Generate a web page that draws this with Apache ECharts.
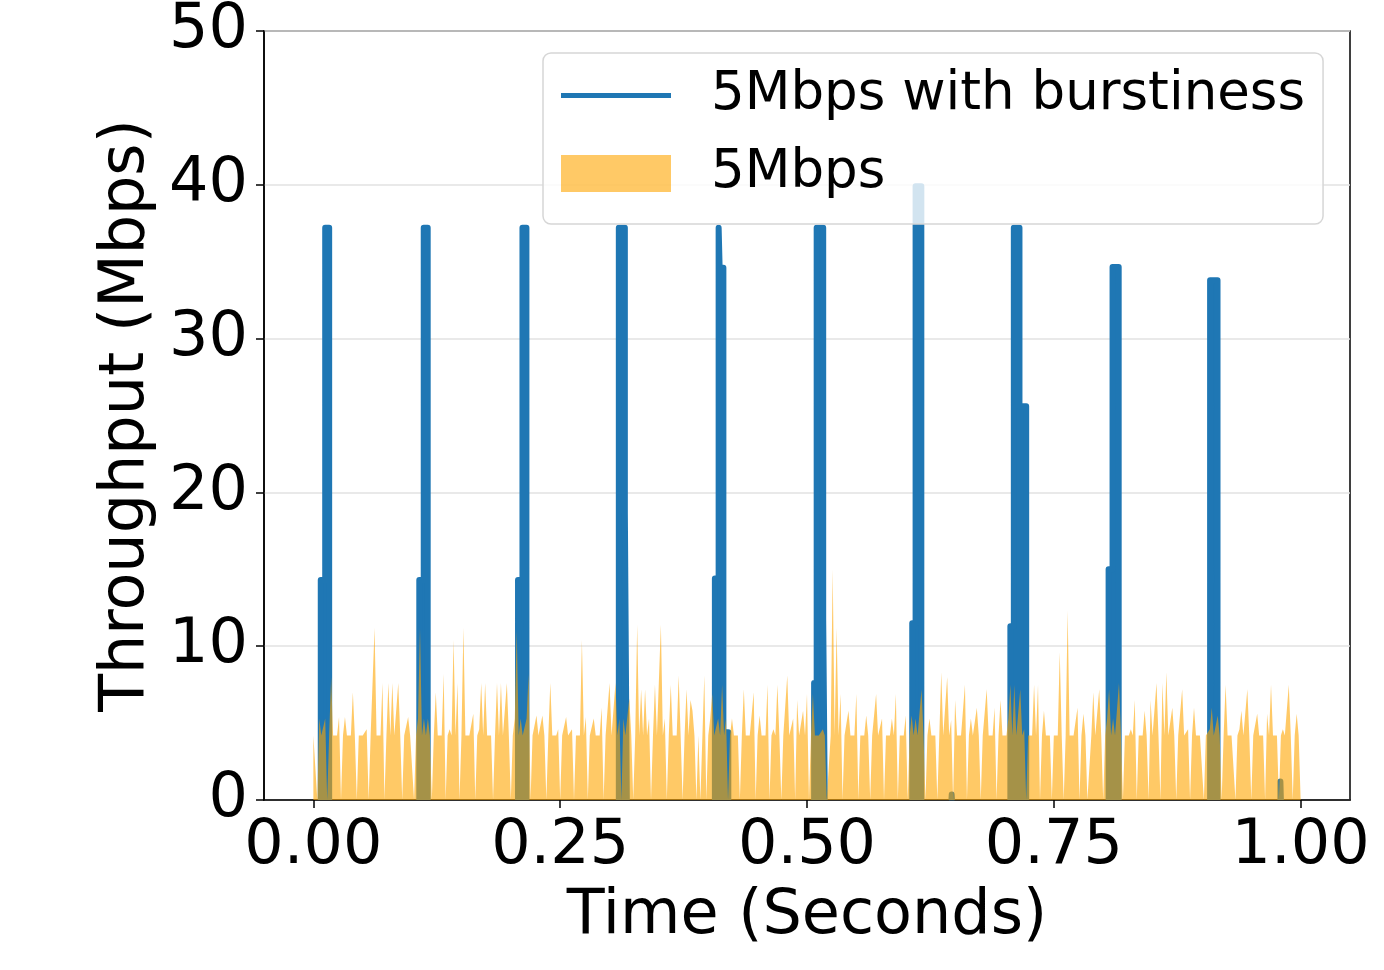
<!DOCTYPE html>
<html>
<head>
<meta charset="utf-8">
<script src="https://cdn.jsdelivr.net/npm/echarts@6/dist/echarts.min.js"></script>
<style>
  html, body { margin: 0; padding: 0; background: #fff; }
  #chart { width: 1384px; height: 970px; }
</style>
</head>
<body>
<div id="chart"></div>
<script>
// ---------------- data ----------------
const xTicks = [0, 0.25, 0.5, 0.75, 1.0];
const seriesNames = ['5Mbps with burstiness', '5Mbps'];

// "5Mbps with burstiness": burst outlines (time in s, throughput in Mbps); null separates bursts
const burstTimes = [
  0.0075, 0.0075, 0.012, 0.012, 0.016, 0.016, 0.05,
  0.1073, 0.1073, 0.1118, 0.1118, 0.1158, 0.1158, 0.15,
  0.2073, 0.2073, 0.2118, 0.2118, 0.2158, 0.2158, 0.25,
  0.3094, 0.3094, 0.3155, 0.3155, 0.3175, 0.3175, 0.35,
  0.4067, 0.4067, 0.4105, 0.4105, 0.4115, 0.4115, 0.4153, 0.4153, 0.4203, 0.4203, 0.45,
  0.5072, 0.5072, 0.5098, 0.5098, 0.5164, 0.5164, 0.518, 0.518, 0.55,
  0.6066, 0.6066, 0.61, 0.61, 0.6158, 0.6158, 0.63,
  0.6463, 0.6466, 0.6469, 0.67,
  0.706, 0.706, 0.7095, 0.7095, 0.7152, 0.7152, 0.722, 0.722, 0.75,
  0.8055, 0.8055, 0.8095, 0.8095, 0.8157, 0.8157, 0.85,
  0.9083, 0.9083, 0.9158, 0.9158, 0.95,
  0.9795, 0.9795, 0.98, 0.98
];
const burstValues = [
  0, 14.3, 14.3, 37.2, 37.2, 0, null,
  0, 14.3, 14.3, 37.2, 37.2, 0, null,
  0, 14.3, 14.3, 37.2, 37.2, 0, null,
  0, 37.2, 37.2, 18.7, 18.7, 0, null,
  0, 14.4, 14.4, 37.2, 37.2, 34.6, 34.6, 4.4, 4.4, 0, null,
  0, 7.6, 7.6, 37.2, 37.2, 11.8, 11.8, 0, null,
  0, 11.5, 11.5, 39.9, 39.9, 0, null,
  0, 0.35, 0, null,
  0, 11.3, 11.3, 37.2, 37.2, 25.6, 25.6, 0, null,
  0, 15.0, 15.0, 34.65, 34.65, 0, null,
  0, 33.8, 33.8, 0, null,
  0, 1.2, 1.2, 0
];

// "5Mbps": one sample every 2 ms from 0.000 s to 1.000 s
const steadyStart = 0;
const steadyStep = 0.002;
const steadyValues = [
  4.2,4.2,0,5.3,4.2,4.2,5.3,0,4.2,8.0,4.2,4.2,4.2,5.4,0,4.2,5.4,4.2,4.2,4.2,7.0,4.2,0,4.2,4.2,
  4.2,4.2,4.6,0,4.2,4.2,11.2,4.2,4.2,4.2,7.6,0,4.2,7.6,4.2,7.6,4.2,4.2,7.6,4.2,0,4.2,4.2,5.4,4.2,
  4.2,0,4.2,5.3,11.2,4.2,5.3,4.2,5.3,4.2,0,4.2,7.0,4.2,4.2,4.2,8.2,0,4.2,4.6,4.2,10.4,4.2,7.6,0,
  4.2,11.2,4.2,4.2,4.2,4.2,5.6,0,4.2,4.6,7.6,4.2,7.6,4.2,4.2,4.2,0,4.2,7.6,4.2,7.6,4.2,4.2,7.6,4.2,
  0,4.2,5.3,11.0,4.2,5.3,4.2,4.2,5.3,8.2,0,4.2,4.2,5.5,4.2,4.2,5.5,4.2,0,4.2,7.6,4.2,4.2,4.2,4.6,
  0,4.2,4.2,5.4,4.2,4.2,4.6,0,4.2,4.2,4.2,10.4,4.2,5.4,0,4.2,4.2,5.3,4.2,4.2,4.2,6.0,0,4.2,4.2,
  7.6,4.2,4.2,7.6,4.2,5.3,0,5.3,4.2,4.2,6.6,4.2,0,4.2,11.4,4.2,7.2,4.2,7.2,4.2,5.3,0,4.2,7.5,4.2,
  4.2,11.4,4.2,5.3,0,4.2,7.5,4.2,4.2,4.2,8.1,4.2,0,4.2,7.2,4.2,6.5,5.8,4.2,0,4.2,0,0,8.1,0,
  4.2,5.3,6.9,4.2,4.2,5.3,4.2,7.5,4.2,5.3,0,4.2,5.3,4.2,4.2,4.2,0,4.2,7.2,4.2,4.2,4.2,4.2,7.0,0,
  4.2,5.5,4.2,4.2,4.2,7.5,0,4.2,4.6,4.2,7.5,4.2,0,4.2,4.2,8.1,4.2,4.2,5.3,0,6.5,4.2,4.2,5.8,4.2,
  6.9,0,4.2,6.9,4.2,4.2,4.2,4.2,4.6,4.2,0,0,4.2,15.0,4.2,11.2,4.2,6.9,0,4.2,4.2,5.8,4.2,4.2,4.2,
  6.9,0,4.2,4.2,4.2,5.5,4.2,0,4.2,4.2,6.9,4.2,4.2,5.3,0,4.2,4.2,4.2,5.3,4.2,6.9,0,4.2,4.2,4.2,
  5.5,0,4.2,5.5,4.2,5.3,4.2,4.2,7.2,4.2,0,4.2,5.3,4.2,4.2,4.2,0,4.2,8.3,4.2,4.2,8.0,4.2,5.2,0,
  6.5,4.2,4.2,4.2,4.2,7.5,0,4.2,5.3,4.2,4.2,6.0,4.2,0,4.2,4.2,7.2,4.2,4.2,4.2,6.0,0,4.2,6.5,4.2,
  4.2,4.2,5.3,7.5,4.2,7.5,4.2,4.2,7.2,4.2,4.6,0,4.2,4.2,4.2,7.5,4.2,7.5,0,4.2,5.8,4.2,4.2,4.2,0,
  4.2,4.2,4.2,9.6,4.2,0,4.2,12.3,4.2,4.2,4.2,4.2,6.0,0,4.2,5.6,4.2,0,0,4.2,7.0,4.2,4.2,7.2,4.2,
  0,4.2,5.3,7.2,4.2,5.3,4.2,4.2,7.6,4.2,0,4.2,4.2,4.2,4.6,4.2,6.5,0,4.2,4.2,4.2,5.8,4.2,0,6.5,
  4.2,4.2,7.6,4.2,0,7.6,4.2,8.3,4.2,4.2,6.0,4.2,0,4.2,4.2,7.2,4.2,4.2,4.6,0,4.2,6.0,4.2,4.2,4.2,
  4.2,0,4.2,4.2,4.6,6.0,4.2,4.2,5.5,4.2,0,4.2,7.5,4.2,4.2,4.2,4.2,0,4.2,4.6,5.8,4.2,4.2,7.2,4.2,
  0,4.2,4.2,5.6,4.2,4.2,4.2,0,5.6,4.2,7.5,4.2,4.2,4.2,0,4.2,4.6,4.2,4.2,7.5,4.2,0,4.2,5.6,4.2,
  4.2
];

// ---------------- chart ----------------
const FONT = 'DejaVu Sans';
const burstData = burstTimes.map((t, i) => [t, burstValues[i]]);
const steadyData = steadyValues.map((v, i) => [steadyStart + i * steadyStep, v]);

const chart = echarts.init(document.getElementById('chart'), null, { renderer: 'canvas' });
chart.setOption({
  animation: false,
  backgroundColor: '#ffffff',
  grid: {
    left: 264, right: 34, top: 26, bottom: 170,
    show: true, borderColor: '#000', borderWidth: 1.5, backgroundColor: 'transparent'
  },
  xAxis: {
    type: 'value', min: -0.05, max: 1.05,
    name: 'Time (Seconds)', nameLocation: 'middle', nameGap: 86,
    nameTextStyle: { fontFamily: FONT, fontSize: 62, color: '#000' },
    axisLine: { show: true, onZero: false, lineStyle: { color: '#000', width: 1.5 } },
    axisTick: { show: true, length: 8, customValues: xTicks, lineStyle: { color: '#000', width: 1.5 } },
    axisLabel: {
      customValues: xTicks, margin: 16,
      fontFamily: FONT, fontSize: 62, color: '#000',
      formatter: v => Number(v).toFixed(2)
    },
    splitLine: { show: false }
  },
  yAxis: {
    type: 'value', min: 0, max: 50, interval: 10,
    name: 'Throughput (Mbps)', nameLocation: 'middle', nameGap: 96, nameRotate: 90,
    nameTextStyle: { fontFamily: FONT, fontSize: 62, color: '#000' },
    axisLine: { show: true, onZero: false, lineStyle: { color: '#000', width: 1.5 } },
    axisTick: { show: true, length: 8, lineStyle: { color: '#000', width: 1.5 } },
    axisLabel: { margin: 16, fontFamily: FONT, fontSize: 62, color: '#000' },
    splitLine: { show: true, lineStyle: { color: '#e2e2e2', width: 1.5 } }
  },
  legend: {
    orient: 'vertical', left: 543, top: 53,
    padding: [16, 18, 24, 18], itemGap: 25, itemWidth: 110, itemHeight: 37,
    backgroundColor: 'rgba(255,255,255,0.8)', borderColor: '#d6d6d6', borderWidth: 1.5, borderRadius: 8,
    textStyle: { fontFamily: FONT, fontSize: 53, color: '#000', padding: [0, 0, 0, 35] },
    itemStyle: { borderWidth: 0 },
    data: [
      { name: seriesNames[0], icon: 'path://M0,0H110V5H0Z', itemStyle: { color: '#1f77b4' } },
      { name: seriesNames[1], icon: 'rect', itemStyle: { color: 'rgba(255,165,0,0.6)' } }
    ]
  },
  series: [
    {
      name: seriesNames[0], type: 'line', data: burstData, z: 2,
      symbol: 'none', showSymbol: false, connectNulls: false, smooth: false,
      color: '#1f77b4',
      lineStyle: { color: '#1f77b4', width: 6, cap: 'butt', join: 'round' },
      areaStyle: { color: '#1f77b4', opacity: 1 },
      emphasis: { disabled: true }
    },
    {
      name: seriesNames[1], type: 'line', data: steadyData, z: 3,
      symbol: 'none', showSymbol: false, smooth: false,
      color: 'rgba(255,165,0,0.6)',
      lineStyle: { width: 0, opacity: 0 },
      areaStyle: { color: 'rgb(255,165,0)', opacity: 0.6 },
      emphasis: { disabled: true }
    }
  ]
});
</script>
</body>
</html>
